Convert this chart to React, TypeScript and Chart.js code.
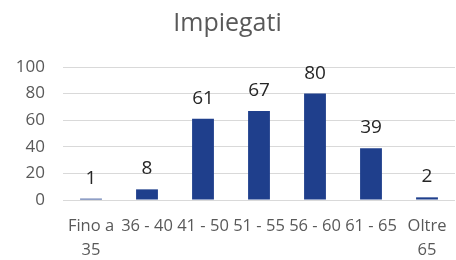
import React, { useEffect, useRef } from "react";
import { Chart, registerables } from "chart.js";

Chart.register(...registerables);

const categories: (string | string[])[] = [
  ["Fino a", "35"],
  "36 - 40",
  "41 - 50",
  "51 - 55",
  "56 - 60",
  "61 - 65",
  ["Oltre", "65"],
];
const values = [1, 8, 61, 67, 80, 39, 2];
const chartTitle = "Impiegati";
const yMax = 100;
const yStep = 20;

const FONT = "'Open Sans', 'DejaVu Sans', sans-serif";

const valueLabels = {
  id: "valueLabels",
  afterDatasetsDraw(chart: any) {
    const ctx = chart.ctx;
    const meta = chart.getDatasetMeta(0);
    ctx.save();
    ctx.font = `19px ${FONT}`;
    ctx.fillStyle = "#262626";
    ctx.textAlign = "center";
    ctx.textBaseline = "alphabetic";
    meta.data.forEach((bar: any, i: number) => {
      ctx.fillText(String(chart.data.datasets[0].data[i]), bar.x, bar.y - 15);
    });
    ctx.restore();
  },
};

export default function App() {
  const ref = useRef<HTMLCanvasElement>(null);
  useEffect(() => {
    if (!ref.current) return;
    const chart = new Chart(ref.current, {
      type: "bar",
      data: {
        labels: categories,
        datasets: [
          {
            data: values,
            backgroundColor: "#1f3f8c",
            barPercentage: 0.78,
            categoryPercentage: 0.5,
          },
        ],
      },
      options: {
        animation: false,
        responsive: false,
        layout: { padding: { left: 0, right: 1, top: 9, bottom: 0 } },
        plugins: {
          legend: { display: false },
          tooltip: { enabled: false },
          title: {
            display: true,
            text: chartTitle,
            color: "#595959",
            font: { family: FONT, size: 25, weight: "normal", lineHeight: 1.2 },
            padding: { top: 0, bottom: 28 },
          },
        },
        scales: {
          x: {
            grid: { display: false, drawTicks: false },
            border: { display: false },
            ticks: {
              color: "#595959",
              font: { family: FONT, size: 16.5, lineHeight: 1.42 },
              maxRotation: 0,
              minRotation: 0,
              autoSkip: false,
              padding: 15,
            },
            afterFit(scale: any) {
              scale.height = 60;
              scale.paddingLeft = 0;
              scale.paddingRight = 0;
            },
          },
          y: {
            min: 0,
            max: yMax,
            grid: { color: "#d9d9d9", drawTicks: false },
            border: { display: false },
            ticks: {
              stepSize: yStep,
              color: "#595959",
              font: { family: FONT, size: 17 },
              padding: 18,
            },
            afterFit(scale: any) {
              scale.width = 63;
            },
          },
        },
      },
      plugins: [valueLabels],
    });
    return () => chart.destroy();
  }, []);
  return (
    <div style={{ position: "fixed", left: 0, top: 0, width: 456, height: 260, background: "#fff" }}>
      <canvas ref={ref} width={456} height={260} />
    </div>
  );
}
